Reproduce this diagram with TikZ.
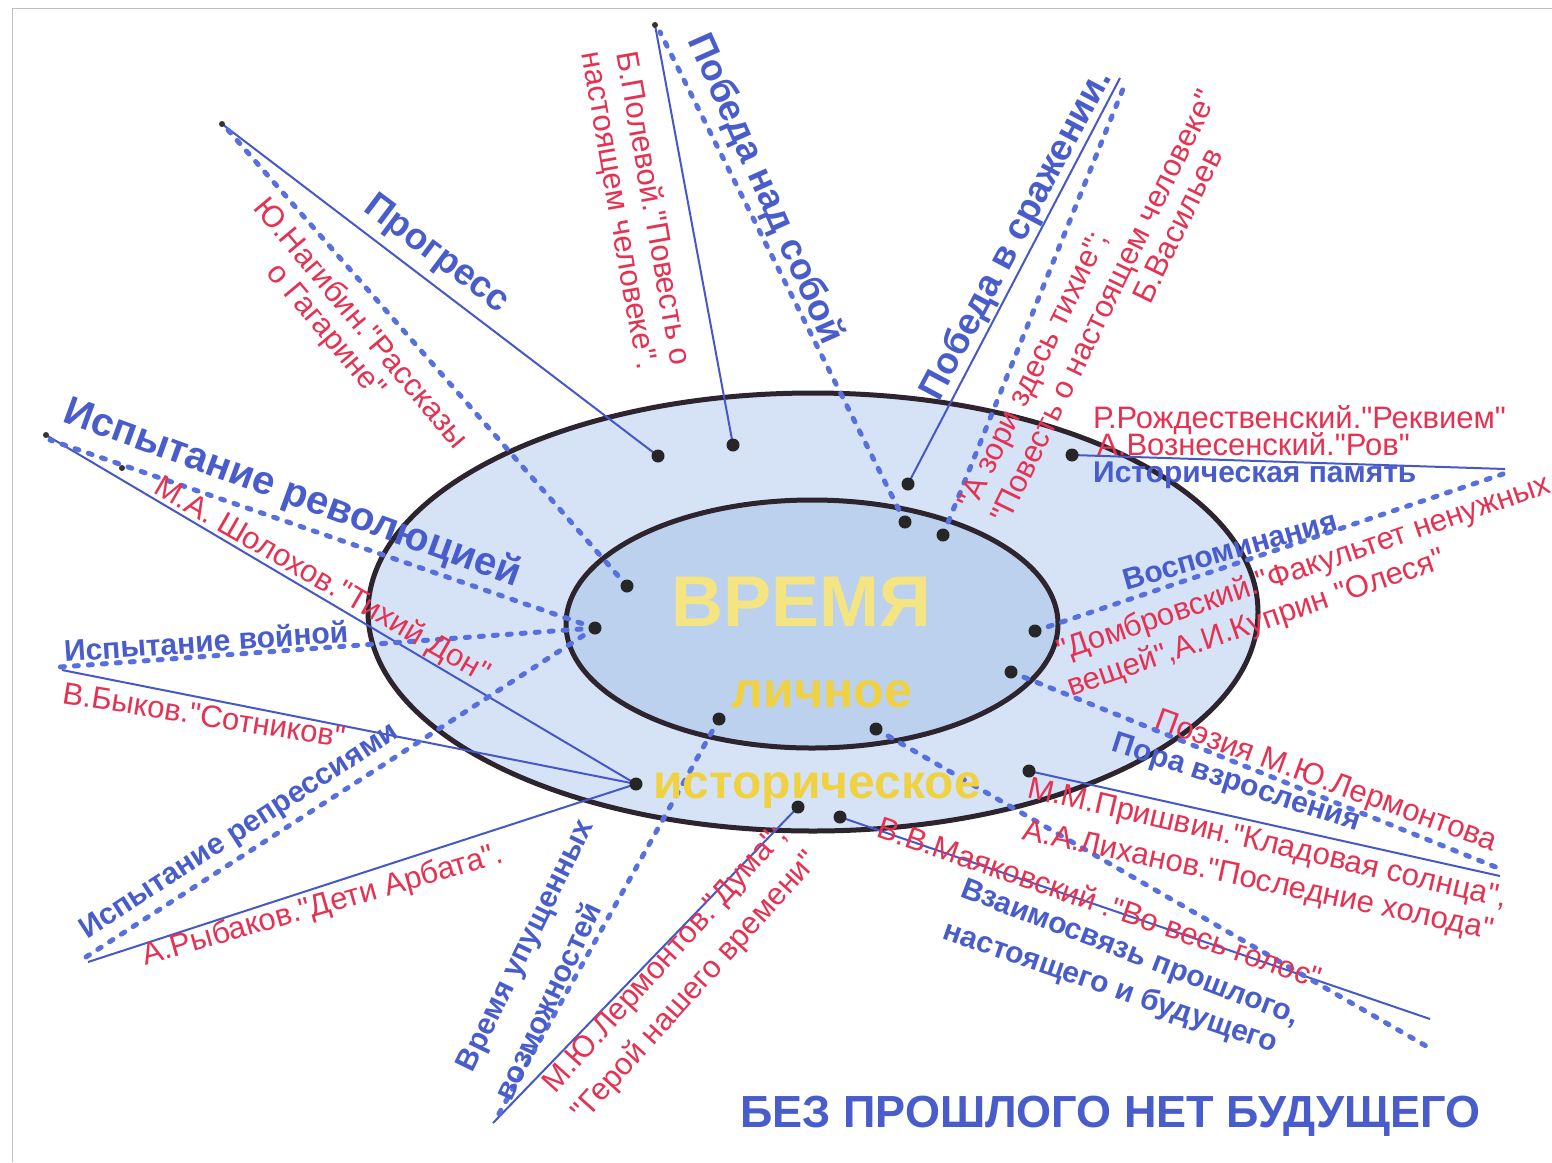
\documentclass[tikz,border=0pt]{standalone}
\usepackage{fontspec}
\setmainfont{Liberation Sans}[Ligatures=TeXOff]
\definecolor{bluet}{RGB}{72,92,204}
\definecolor{redt}{RGB}{230,50,82}
\definecolor{lineb}{RGB}{70,88,200}
\definecolor{dashb}{RGB}{88,112,222}
\definecolor{ringc}{RGB}{45,36,46}
\definecolor{outerf}{RGB}{214,227,246}
\definecolor{innerf}{RGB}{188,209,238}
\definecolor{yelA}{RGB}{245,228,130}
\definecolor{yelB}{RGB}{240,210,64}
\tikzset{
 solidl/.style={draw=lineb, line width=2pt},
 dashl/.style={draw=dashb, line width=5pt, line cap=round, dash pattern=on 4pt off 10pt},
 dotn/.style={circle, fill=black!85, inner sep=0pt, minimum size=13pt},
 enddot/.style={circle, fill=black!80, inner sep=0pt, minimum size=6pt},
 redlab/.style={text=redt, font=\fontsize{31}{34}\selectfont, inner sep=0pt},
 bluelab/.style={text=bluet, font=\bfseries\fontsize{30}{34}\selectfont, inner sep=0pt},
 bigblue/.style={text=bluet, font=\bfseries\fontsize{37}{40}\selectfont, inner sep=0pt},
}
\begin{document}
\begin{tikzpicture}[x=1pt,y=-1pt]
\useasboundingbox (0,0) rectangle (1552,1162);
\fill[white] (0,0) rectangle (1552,1162);
\draw[black!25, line width=1pt] (12,1162) -- (12,8) -- (1552,8);
% rings
\draw[ringc, line width=5pt, fill=outerf] (813,612) ellipse [x radius=445pt, y radius=219pt];
\draw[ringc, line width=5pt, fill=innerf] (812,624) ellipse [x radius=246pt, y radius=124pt];
% dot positions
\coordinate (pProg) at (658,456);
\coordinate (pPol) at (733,445);
\coordinate (pNag) at (627,586);
\coordinate (pPns) at (905,522);
\coordinate (pVas) at (943,535);
\coordinate (pPvs) at (908,484);
\coordinate (pIst) at (1072,455);
\coordinate (pVos) at (1035,631);
\coordinate (pPoe) at (1011,672);
\coordinate (pPri) at (1029,771);
\coordinate (pMayD) at (876,729);
\coordinate (pMayS) at (840,817);
\coordinate (pLerS) at (798,807);
\coordinate (pVup) at (719,719);
\coordinate (pLeftS) at (636,784);
\coordinate (pLeftD) at (595,628);
% free ends
\coordinate (eProg) at (222,124);
\coordinate (eNag) at (228,130);
\coordinate (ePol) at (655,25);
\coordinate (ePns) at (660,32);
\coordinate (ePvs) at (1120,78);
\coordinate (eVas) at (1125,84);
\coordinate (eIst) at (1505,469);
\coordinate (eVos) at (1503,474);
\coordinate (ePoe) at (1503,870);
\coordinate (ePri) at (1500,876);
\coordinate (eMayD) at (1433,1050);
\coordinate (eMayS) at (1430,1019);
\coordinate (eLerS) at (493,1123);
\coordinate (eVup) at (496,1119);
\coordinate (eRevD) at (50,440);
\coordinate (eRevS) at (46,435);
\coordinate (eWarD) at (60,667);
\coordinate (eWarS) at (62,670);
\coordinate (eRepD) at (86,957);
\coordinate (eRepS) at (88,962);
% solid connectors
\draw[solidl] (pProg) -- (eProg);
\draw[solidl] (pPol) -- (ePol);
\draw[solidl] (pPvs) -- (ePvs);
\draw[solidl] (pIst) -- (eIst);
\draw[solidl] (pPri) -- (ePri);
\draw[solidl] (pMayS) -- (eMayS);
\draw[solidl] (pLerS) -- (eLerS);
\draw[solidl] (pLeftS) -- (eRevS);
\draw[solidl] (pLeftS) -- (eWarS);
\draw[solidl] (pLeftS) -- (eRepS);
% dashed connectors
\draw[dashl] (pNag) -- (eNag);
\draw[dashl] (pPns) -- (ePns);
\draw[dashl] (pVas) -- (eVas);
\draw[dashl] (pVos) -- (eVos);
\draw[dashl] (pPoe) -- (ePoe);
\draw[dashl] (pMayD) -- (eMayD);
\draw[dashl] (pVup) -- (eVup);
\draw[dashl] (pLeftD) -- (eRevD);
\draw[dashl] (pLeftD) -- (eWarD);
\draw[dashl] (pLeftD) -- (eRepD);
% dots
\foreach \p in {pProg,pPol,pNag,pPns,pVas,pPvs,pIst,pVos,pPoe,pPri,pMayD,pMayS,pLerS,pVup,pLeftS,pLeftD}
  \node[dotn] (d\p) at (\p) {};
\node[enddot] (dProgEnd) at (eProg) {};
\node[enddot] (dPolEnd) at (ePol) {};
\node[enddot] (dRevEnd) at (eRevS) {};
\node[enddot] (stray) at (122,468) {};
% centre texts
\node[text=yelA, font=\bfseries\fontsize{72}{72}\selectfont, inner sep=0pt] (vremya) at (801,602) {ВРЕМЯ};
\node[text=yelB, font=\bfseries\fontsize{50}{50}\selectfont, inner sep=0pt] (lichnoe) at (822,694) {личное};
\node[text=yelB, font=\bfseries\fontsize{48}{48}\selectfont, inner sep=0pt, anchor=base] (istor) at (817,798) {историческое};
% top-left
\node[bigblue, rotate=-37] (prog) at (436,255) {Прогресс};
\node[redlab, rotate=-50] (nag1) at (362,322) {Ю.Нагибин."Рассказы};
\node[redlab, rotate=-50] (nag2) at (325,332) {о Гагарине"};
\node[redlab, rotate=-80] (pol1) at (655,208) {Б.Полевой."Повесть о};
\node[redlab, rotate=-80] (pol2) at (617,211) {настоящем человеке".};
\node[bigblue, rotate=-66] (pns) at (765,189) {Победа над собой};
% top-right
\node[bigblue, rotate=62] (pvs) at (1017,235) {Победа в сражении.};
\node[redlab, rotate=64, anchor=base west] (vas1) at (975,512) {"А зори здесь тихие";};
\node[redlab, rotate=64, anchor=base west] (vas2) at (1008,526) {"Повесть о настоящем человеке"};
\node[redlab, rotate=64, anchor=base west] (vas3) at (1150,306) {Б.Васильев};
\node[redlab, anchor=base west] (ist1) at (1093,428) {Р.Рождественский."Реквием"};
\node[redlab, anchor=base west] (ist2) at (1097,455) {А.Вознесенский."Ров"};
\node[bluelab, anchor=base west] (ist3) at (1093,482) {Историческая память};
\node[bluelab, rotate=16] (vos) at (1230,550) {Воспоминания};
\node[redlab, rotate=19] (dom1) at (1304,569) {"Домбровский."Факультет ненужных};
\node[redlab, rotate=19] (dom2) at (1256,624) {вещей",А.И.Куприн "Олеся"};
% right / bottom-right
\node[redlab, rotate=-20] (poe) at (1326,782) {Поэзия М.Ю.Лермонтова};
\node[bluelab, rotate=-18] (pora) at (1236,784) {Пора взросления};
\node[redlab, rotate=-13] (pri1) at (1267,845) {М.М.Пришвин."Кладовая солнца",};
\node[redlab, rotate=-12] (pri2) at (1258,882) {А.А.Лиханов."Последние холода"};
\node[redlab, rotate=-19] (may) at (1100,902) {В.В.Маяковский ."Во весь голос"};
\node[bluelab, rotate=-21] (vz1) at (1130,954) {Взаимосвязь прошлого,};
\node[bluelab, rotate=-19] (vz2) at (1110,988) {настоящего и будущего};
% bottom
\node[redlab, rotate=48] (ler1) at (666,960) {М.Ю.Лермонтов."Дума";};
\node[redlab, rotate=48] (ler2) at (696,987) {"Герой нашего времени"};
\node[bluelab, rotate=64] (vup1) at (527,946) {Время упущенных};
\node[bluelab, rotate=65] (vup2) at (547,1001) {возможностей};
% left
\node[bluelab, font=\bfseries\fontsize{40}{42}\selectfont, rotate=-20] (rev) at (292,494) {Испытание революцией};
\node[redlab, rotate=-30] (shol) at (322,581) {М.А. Шолохов."Тихий Дон"};
\node[bluelab, rotate=4] (war) at (206,641) {Испытание войной};
\node[redlab, rotate=-9] (byk) at (204,715) {В.Быков."Сотников"};
\node[bluelab, rotate=33] (rep) at (240,832) {Испытание репрессиями};
\node[redlab, rotate=16] (ryb) at (323,906) {А.Рыбаков."Дети Арбата".};
% title
\node[text=bluet, font=\bfseries\fontsize{45}{45}\selectfont, inner sep=0pt, anchor=base west] (title) at (740,1127) {БЕЗ ПРОШЛОГО НЕТ БУДУЩЕГО};
\end{tikzpicture}
\end{document}
